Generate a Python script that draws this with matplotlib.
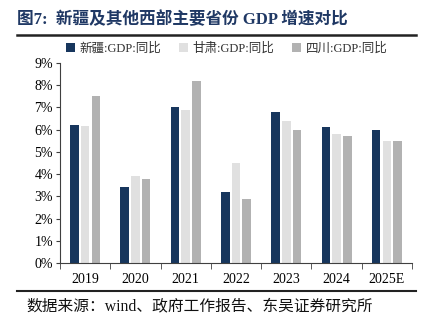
import matplotlib
matplotlib.use("Agg")
import matplotlib.pyplot as plt
import numpy as np
from matplotlib.lines import Line2D
from matplotlib.patches import Patch

categories = ["2019", "2020", "2021", "2022", "2023", "2024", "2025E"]
xinjiang = [6.2, 3.4, 7.0, 3.2, 6.8, 6.1, 6.0]
gansu = [6.15, 3.9, 6.9, 4.5, 6.4, 5.8, 5.5]
sichuan = [7.5, 3.8, 8.2, 2.9, 6.0, 5.7, 5.5]
series_names = ["新疆:GDP:同比", "甘肃:GDP:同比", "四川:GDP:同比"]
colors = ["#17365d", "#e0e0e0", "#b2b2b2"]
yticks = [0, 1, 2, 3, 4, 5, 6, 7, 8, 9]

serif = ["Liberation Serif", "Noto Sans CJK SC"]

fig = plt.figure(figsize=(4.30, 3.26), dpi=100)
W, H = 430, 326
ax = fig.add_axes([60 / W, 1 - 263 / H, (412 - 60) / W, 200 / H])

x = np.arange(len(categories))
bw = 0.17
step = 0.213
for i, (vals, c) in enumerate(zip([xinjiang, gansu, sichuan], colors)):
    ax.bar(x + (i - 1) * step, vals, width=bw, color=c, zorder=2)

ax.set_xlim(-0.5, len(categories) - 0.5)
ax.set_ylim(0, 9)
ax.set_yticks(yticks)
ax.set_yticklabels([f"{v}%" for v in yticks], family=serif, fontsize=10)
ax.set_xticks(x)
ax.set_xticklabels(categories, family=serif, fontsize=10)
ax.tick_params(axis="x", length=0, pad=7)
ax.set_xticks(np.arange(-0.5, len(categories)), minor=True)
ax.tick_params(axis="x", which="minor", length=4, color="#404040", direction="out")
ax.tick_params(axis="y", length=3, color="#404040", pad=2)
for s in ["top", "right"]:
    ax.spines[s].set_visible(False)
for s in ["left", "bottom"]:
    ax.spines[s].set_color("#404040")
    ax.spines[s].set_linewidth(0.8)

handles = [Patch(facecolor=c) for c in colors]
leg = fig.legend(handles, series_names, loc="center left", bbox_to_anchor=(66 / W, 1 - 49 / H),
                 ncol=3, frameon=False, prop={"family": serif, "size": 9},
                 handlelength=0.75, handleheight=0.75, handletextpad=0.35, columnspacing=1.4,
                 borderpad=0, borderaxespad=0)
for t in leg.get_texts():
    t.set_color("#333333")

fig.text(17 / W, 1 - 20 / H, "图7:  新疆及其他西部主要省份 GDP 增速对比", family=serif,
         fontsize=12, fontweight="bold", color="#1f3864", va="center", ha="left")
fig.add_artist(Line2D([17 / W, 416 / W], [1 - 35 / H] * 2, color="#222222", lw=1.8))
fig.add_artist(Line2D([17 / W, 416 / W], [1 - 291 / H] * 2, color="#222222", lw=1.5))
fig.text(26 / W, 1 - 306 / H, "数据来源：wind、政府工作报告、东吴证券研究所", family=serif,
         fontsize=11.3, color="#111111", va="center", ha="left")

fig.savefig("out.png", dpi=100)
